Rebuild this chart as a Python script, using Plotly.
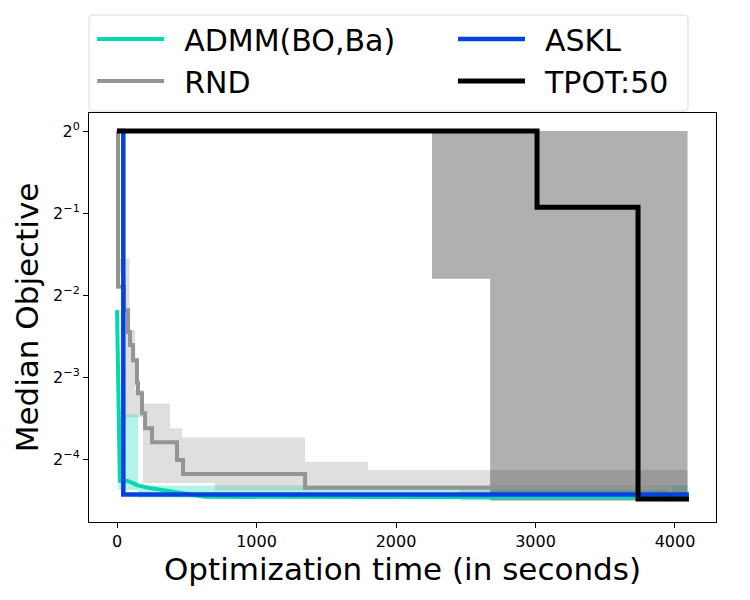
import plotly.graph_objects as go

# ---------------- data ----------------
# ADMM(BO,Ba) median and band
admm_x = [0, 7, 20, 72, 150, 222, 630, 4090]
admm_y = [0.22, 0.103, 0.052, 0.052, 0.050, 0.049, 0.0454, 0.0452]
admm_band_x = [0, 10, 65, 150, 4090]
admm_band_lo = [0.22, 0.048, 0.048, 0.045, 0.044]
admm_band_hi = [0.22, 0.09, 0.091, 0.05, 0.047]

# RND median and band
rnd_x = [0, 7, 50, 79, 93, 115, 143, 150, 179, 201, 251, 430, 473, 1348, 3964, 4090]
rnd_y = [1.0, 0.268, 0.22, 0.183, 0.164, 0.144, 0.119, 0.109, 0.092, 0.081, 0.072,
         0.062, 0.055, 0.049, 0.0445, 0.0445]
rnd_band_x = [0, 7, 10, 40, 90, 129, 186, 380, 466, 700, 1348, 1800, 2460, 4090]
rnd_band_hi = [1.0, 1.0, 0.34, 0.34, 0.186, 0.112, 0.10, 0.081, 0.075, 0.075, 0.061, 0.057, 0.057, 0.057]
rnd_band_lo = [1.0, 0.3, 0.3, 0.089, 0.089, 0.089, 0.051, 0.051, 0.051, 0.048, 0.048, 0.048, 0.044, 0.044]

# ASKL median
askl_x = [0, 45, 4100]
askl_y = [1.0, 0.0463, 0.0463]

# TPOT:50 median and band
tpot_x = [0, 3011, 3735, 4100]
tpot_y = [1.0, 0.525, 0.0446, 0.0446]
tpot_band_x = [0, 2258, 2675, 4090]
tpot_band_lo = [1.0, 0.287, 0.044, 0.044]
tpot_band_hi = [1.0, 1.0, 1.0, 1.0]

# labels and ticks
names = ["ADMM(BO,Ba)", "RND", "ASKL", "TPOT:50"]
x_ticks = [0, 1000, 2000, 3000, 4000]
y_ticks = [1, 0.5, 0.25, 0.125, 0.0625]
y_ticktext = ["2<sup>0</sup>", "2<sup>\u22121</sup>", "2<sup>\u22122</sup>",
              "2<sup>\u22123</sup>", "2<sup>\u22124</sup>"]

C_ADMM = "#04d8b2"
C_RND = "#929591"
C_ASKL = "#0343df"
C_TPOT = "#000000"

fig = go.Figure()


def band(x, lo, hi, fillcolor):
    fig.add_trace(go.Scatter(x=x, y=lo, mode="lines", line=dict(width=0, shape="hv"),
                             showlegend=False, hoverinfo="skip"))
    fig.add_trace(go.Scatter(x=x, y=hi, mode="lines", line=dict(width=0, shape="hv"),
                             fill="tonexty", fillcolor=fillcolor,
                             showlegend=False, hoverinfo="skip"))


band(admm_band_x, admm_band_lo, admm_band_hi, "rgba(4,216,178,0.3)")
band(rnd_band_x, rnd_band_lo, rnd_band_hi, "rgba(146,149,145,0.3)")
band(tpot_band_x, tpot_band_lo, tpot_band_hi, "rgba(0,0,0,0.31)")

PAD = "\u2002"
fig.add_trace(go.Scatter(x=admm_x, y=admm_y, mode="lines", name=PAD + names[0],
                         line=dict(color=C_ADMM, width=4), legend="legend",
                         legendgroup="a"))
fig.add_trace(go.Scatter(x=rnd_x, y=rnd_y, mode="lines", name=PAD + names[1],
                         line=dict(color=C_RND, width=4, shape="hv"), legend="legend",
                         legendgroup="b"))
fig.add_trace(go.Scatter(x=askl_x, y=askl_y, mode="lines", name=PAD + names[2],
                         line=dict(color=C_ASKL, width=4.5, shape="hv"), legend="legend2",
                         legendgroup="c"))
fig.add_trace(go.Scatter(x=tpot_x, y=tpot_y, mode="lines", name=PAD + names[3],
                         line=dict(color=C_TPOT, width=5, shape="hv"), legend="legend2",
                         legendgroup="d"))

legend_common = dict(orientation="v", xanchor="left", y=1.2445, yanchor="top",
                     font=dict(size=30), itemwidth=67, borderwidth=0,
                     bgcolor="rgba(0,0,0,0)", traceorder="normal", tracegroupgap=0)

# rounded legend frame (paper coordinates)
fx0, fx1, fy0, fy1 = 0.0, 0.9553, 1.0049, 1.2396
rx, ry = 0.0064, 0.0098
frame_path = (f"M{fx0+rx},{fy1} L{fx1-rx},{fy1} Q{fx1},{fy1} {fx1},{fy1-ry} "
              f"L{fx1},{fy0+ry} Q{fx1},{fy0} {fx1-rx},{fy0} L{fx0+rx},{fy0} "
              f"Q{fx0},{fy0} {fx0},{fy0+ry} L{fx0},{fy1-ry} Q{fx0},{fy1} {fx0+rx},{fy1} Z")

# the page body adds an 8px offset, so the figure is drawn 8px smaller with shifted margins
fig.update_layout(
    width=742, height=592,
    margin=dict(l=81, r=34, t=105, b=78, autoexpand=False),
    paper_bgcolor="white", plot_bgcolor="white",
    font=dict(family="DejaVu Sans", color="black"),
    legend=dict(x=0.005, **legend_common),
    legend2=dict(x=0.5805, **legend_common),
    shapes=[dict(type="path", xref="paper", yref="paper", path=frame_path,
                 line=dict(color="#dcdcdc", width=1), fillcolor="white", layer="below")],
)
fig.update_xaxes(range=[-201, 4294], tickvals=x_ticks, ticks="outside", ticklen=5,
                 tickcolor="black", showline=True, linecolor="black", linewidth=1,
                 mirror=True, showgrid=False, zeroline=False, tickfont=dict(size=16),
                 automargin=False,
                 title=dict(text="Optimization time (in seconds)", font=dict(size=31), standoff=6))
fig.update_yaxes(type="log", range=[-1.4354, 0.0661], tickvals=y_ticks, ticktext=y_ticktext,
                 ticks="outside", ticklen=5, tickcolor="black", showline=True,
                 linecolor="black", linewidth=1, mirror=True, showgrid=False, zeroline=False,
                 tickfont=dict(size=16), automargin=False,
                 title=dict(text="Median Objective", font=dict(size=31), standoff=5))

fig.write_html("out.html")
